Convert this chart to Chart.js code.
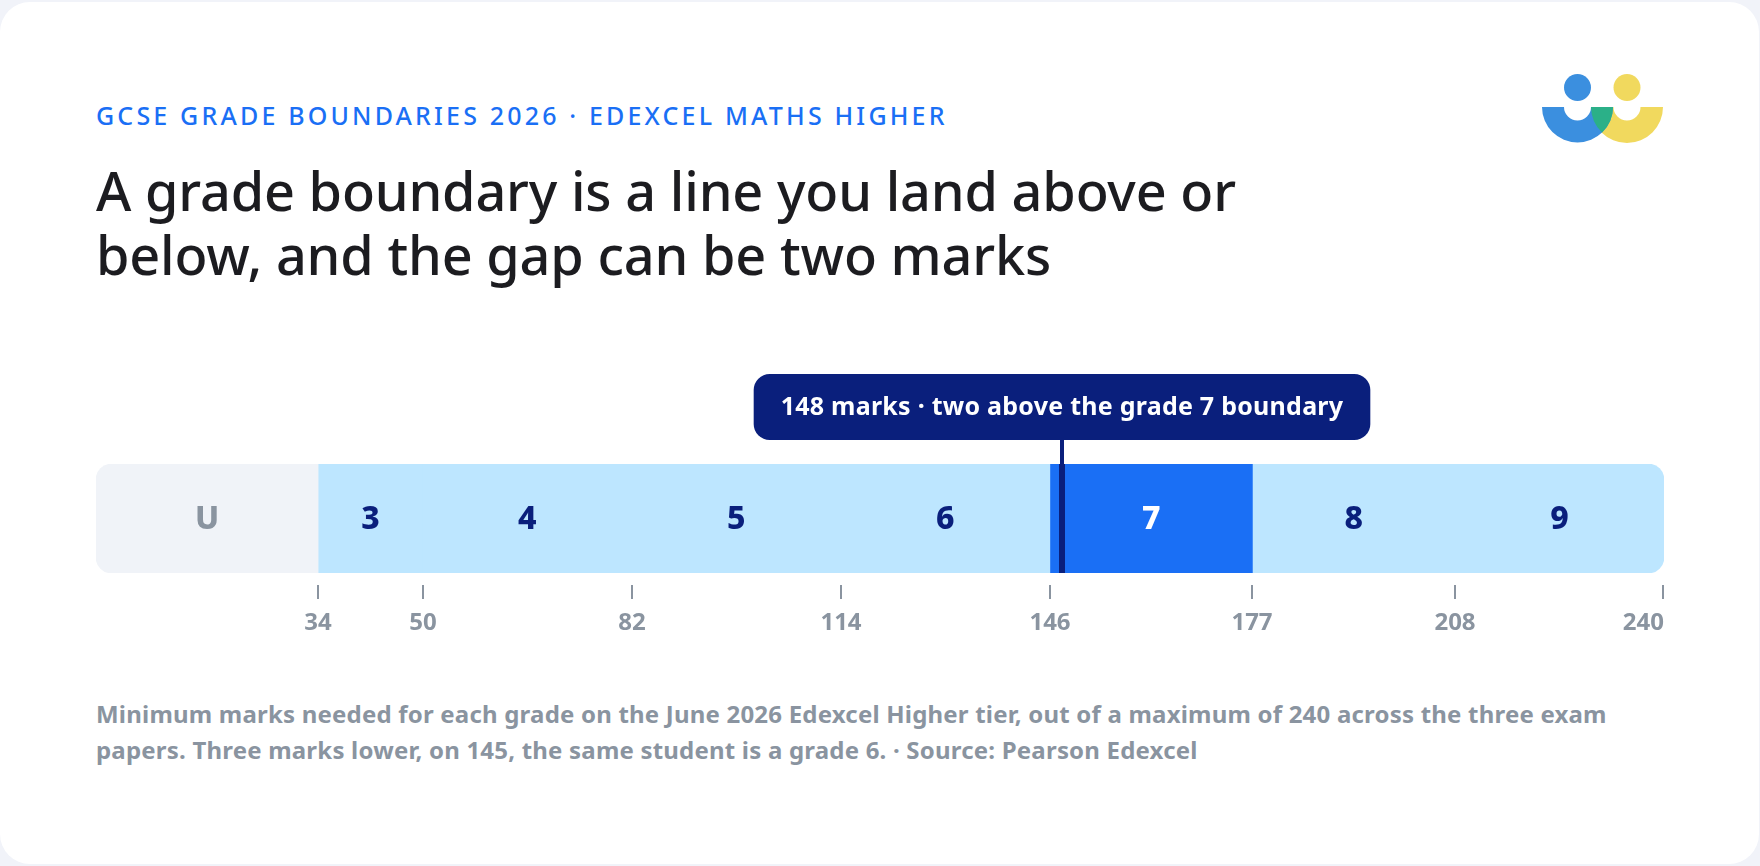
<!DOCTYPE html>
<html>
<head>
<meta charset="utf-8">
<title>GCSE grade boundaries 2026</title>
<script src="https://cdn.jsdelivr.net/npm/chart.js@4"></script>
<style>
    html, body { margin: 0; padding: 0; background: #f1f3f9; }
    body { width: 1760px; height: 866px; overflow: hidden; position: relative; font-family: "Noto Sans", sans-serif; }
    #card { position: absolute; left: 0; top: 2px; width: 1759px; height: 862px; background: #fff; border-radius: 30px; }
    #eyebrow { position: absolute; left: 96px; top: 100px; font-size: 25px; font-weight: 500; line-height: 30px; letter-spacing: 3.17px; color: #1a6ff5; white-space: nowrap; }
    #title { position: absolute; left: 96px; top: 158px; font-size: 54px; font-weight: 500; line-height: 64px; letter-spacing: -0.18px; color: #1c1c20; white-space: nowrap; }
    #note { position: absolute; left: 96px; top: 696px; font-size: 24px; line-height: 36px; font-weight: 700; letter-spacing: 0.2px; color: #8a94a0; white-space: nowrap; }
    #logo { position: absolute; left: 1530px; top: 60px; }
    #chartBox { position: absolute; left: 0; top: 360px; width: 1760px; height: 300px; }
</style>
</head>
<body>
<div id="card"></div>
<div id="eyebrow">GCSE GRADE BOUNDARIES 2026 · EDEXCEL MATHS HIGHER</div>
<div id="title">A grade boundary is a line you land above or<br>below, and the gap can be two marks</div>
<svg id="logo" width="140" height="100" viewBox="1530 60 140 100">
    <circle cx="1577.5" cy="87.5" r="13.5" fill="#3b8fdf"/>
    <circle cx="1627" cy="87.5" r="13.5" fill="#f1d95e"/>
    <path d="M1591 107 H1663 A36 36 0 0 1 1591 107 Z M1613.5 107 A13.5 13.5 0 0 0 1640.5 107 Z" fill="#f1d95e" fill-rule="evenodd"/>
    <path d="M1542 107 H1613 A35.5 35.5 0 0 1 1542 107 Z M1564 107 A13.5 13.5 0 0 0 1591 107 Z" fill="#3b8fdf" fill-rule="evenodd"/>
    <path d="M1591 107 H1613 A35.5 35.5 0 0 1 1602 132.5 A36 36 0 0 1 1591 107 Z" fill="#2bb088"/>
</svg>
<div id="chartBox"><canvas id="chart" width="1760" height="300"></canvas></div>
<div id="note">Minimum marks needed for each grade on the June 2026 Edexcel Higher tier, out of a maximum of 240 across the three exam<br>papers. Three marks lower, on 145, the same student is a grade 6. · Source: Pearson Edexcel</div>

<script>
const gradeLabels = ["U", "3", "4", "5", "6", "7", "8", "9"];
const gradeStarts = [0, 34, 50, 82, 114, 146, 177, 208];
const gradeEnds = [34, 50, 82, 114, 146, 177, 208, 240];
const tickMarks = [34, 50, 82, 114, 146, 177, 208, 240];
const maxMarks = 240;
const studentMark = [148];
const studentGrade = "7";
const calloutText = "148 marks · two above the grade 7 boundary";

const FONT = '"Noto Sans", sans-serif';
const GREY = "#8a94a0";
const NAVY = "#0a1f7c";
const BLUE = "#1a6ff5";
const PALE = "#bde6ff";

function segColor(label) {
    if (label === "U") return "#f0f3f8";
    return label === studentGrade ? BLUE : PALE;
}

function segTextColor(label) {
    if (label === "U") return GREY;
    return label === studentGrade ? "#fff" : NAVY;
}

function segRadius(i) {
    let r = { topLeft: 0, topRight: 0, bottomLeft: 0, bottomRight: 0 };
    if (i === 0) { r.topLeft = 16; r.bottomLeft = 16; }
    if (i === gradeLabels.length - 1) { r.topRight = 16; r.bottomRight = 16; }
    return r;
}

// axis ticks sit below a gap under the bar, and the last label stops at the bar end
const axisPlugin = {
    id: "axisPlugin",
    afterDraw(chart) {
        const ctx = chart.ctx;
        const scale = chart.scales.x;
        const bottom = chart.chartArea.bottom;
        ctx.save();
        ctx.font = "700 24px " + FONT;
        ctx.fillStyle = GREY;
        ctx.textBaseline = "middle";
        tickMarks.forEach(v => {
            const x = Math.round(scale.getPixelForValue(v));
            ctx.fillRect(v === maxMarks ? x - 2 : x - 1, bottom + 12, 2, 14);
            ctx.textAlign = v === maxMarks ? "right" : "center";
            ctx.fillText(String(v), x, bottom + 50);
        });
        ctx.restore();
    }
};

const labelPlugin = {
    id: "labelPlugin",
    afterDatasetsDraw(chart) {
        const ctx = chart.ctx;
        const scale = chart.scales.x;
        const area = chart.chartArea;
        const y = (area.top + area.bottom) / 2 + 1;
        ctx.save();
        ctx.font = "800 32px " + FONT;
        ctx.textAlign = "center";
        ctx.textBaseline = "middle";
        gradeLabels.forEach((label, i) => {
            ctx.fillStyle = segTextColor(label);
            ctx.fillText(label, scale.getPixelForValue((gradeStarts[i] + gradeEnds[i]) / 2), y);
        });
        ctx.restore();
    }
};

const markerPlugin = {
    id: "markerPlugin",
    afterDraw(chart) {
        const ctx = chart.ctx;
        const area = chart.chartArea;
        const x = Math.floor(chart.scales.x.getPixelForValue(studentMark[0]));
        const pillTop = area.top - 90;
        const pillH = 66;
        ctx.save();
        ctx.fillStyle = NAVY;
        ctx.fillRect(x - 2, pillTop + pillH, 4, area.top - pillTop - pillH);
        ctx.fillRect(x - 3, area.top, 6, area.bottom - area.top);

        ctx.font = "700 25px " + FONT;
        ctx.letterSpacing = "0.25px";
        const w = ctx.measureText(calloutText).width + 54;
        ctx.beginPath();
        ctx.roundRect(x - w / 2, pillTop, w, pillH, 16);
        ctx.fill();
        ctx.fillStyle = "#fff";
        ctx.textAlign = "center";
        ctx.textBaseline = "middle";
        ctx.fillText(calloutText, x, pillTop + pillH / 2 + 1);
        ctx.restore();
    }
};

new Chart(document.getElementById("chart").getContext("2d"), {
    type: "bar",
    data: {
        labels: ["Marks"],
        datasets: gradeLabels.map((label, i) => ({
            label: label,
            data: [[gradeStarts[i], gradeEnds[i]]],
            backgroundColor: segColor(label),
            borderWidth: 0,
            borderSkipped: false,
            borderRadius: segRadius(i),
            grouped: false,
            barPercentage: 1,
            categoryPercentage: 1
        }))
    },
    options: {
        indexAxis: "y",
        responsive: false,
        animation: false,
        layout: { padding: { left: 96, right: 96, top: 104, bottom: 79 } },
        plugins: { legend: { display: false }, tooltip: { enabled: false } },
        scales: {
            x: {
                type: "linear",
                min: 0,
                max: maxMarks,
                afterBuildTicks: scale => { scale.ticks = tickMarks.map(v => ({ value: v })); },
                ticks: { display: false, autoSkip: false },
                grid: { display: false },
                border: { display: false }
            },
            y: { display: false }
        }
    },
    plugins: [labelPlugin, axisPlugin, markerPlugin]
});
</script>
</body>
</html>
